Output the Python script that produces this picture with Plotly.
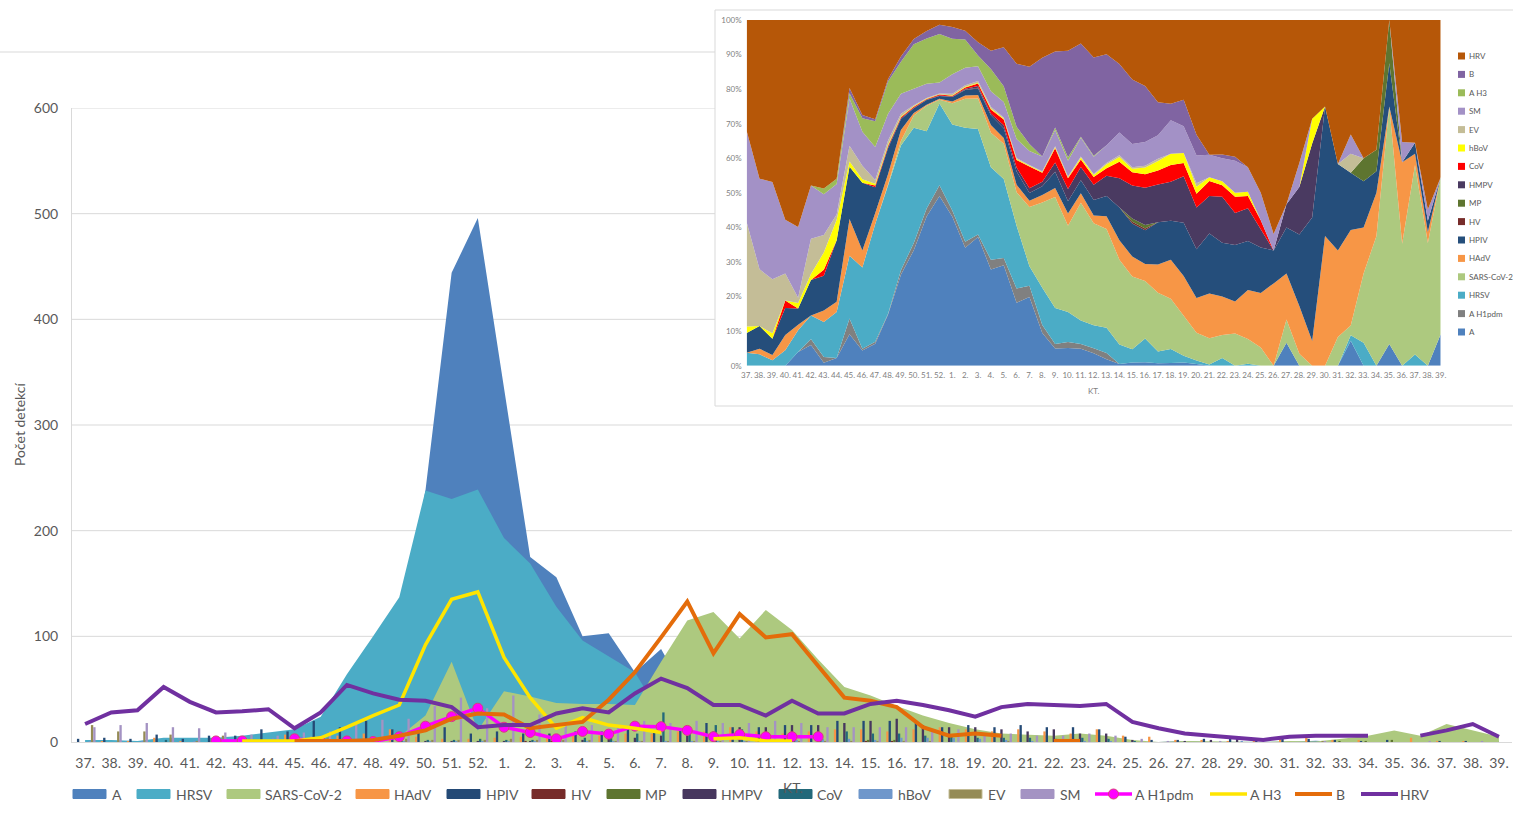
import plotly.graph_objects as go

W, H = 1513, 814

weeks = [f"{w}." for w in list(range(37, 53)) + list(range(1, 40))]
pos = list(range(len(weeks)))  # category slots (labels repeat across seasons)

# ---- main areas ----
A = [0, 0, 0, 0, 2.5, 3.5, 0.5, 1.5, 6, 4.5, 12, 40, 100, 238, 444,
     496, 335, 175, 156, 100, 103, 66, 88, 44, 19, 20, 18, 13, 5, 1,
     2, 2, 1, 1, 1, 0.5, 0, 0, 0, 0, 0, 0, 1, 0, 0,
     0, 0, 1.3, 0, 0, 1, 0, 0, 0, 1]
HRSV = [2, 2, 1, 4, 4, 4, 6, 9, 12, 24, 64, 100, 137, 238, 230,
        239, 193, 169, 128, 96, 81, 66, 25, 50, 40, 34, 25, 24, 20, 12,
        8, 14, 5, 5, 2, 1, 0.3, 2, 0, 0.5, 0, 0, 0, 0, 0,
        0, 0, 0.3, 1, 0, 0, 0, 1, 0, 0]
SARS_CoV_2 = [0, 0, 0, 0, 0, 0, 0, 0, 0, 0, 0, 1, 5, 25, 76,
              11, 48, 43, 37, 36, 36, 35, 76, 115, 123, 98, 125, 106, 78, 52,
              44, 34, 25, 18, 12, 8, 7, 6, 8, 6, 2, 0, 1, 0.5, 0,
              0, 1, 0.5, 3, 6, 11, 6, 17, 11, 5]

# ---- bars ----
HAdV = [0, 1, 1, 4, 1, 0, 2, 2, 7, 5, 6, 8, 12, 5, 3,
        3, 4, 5, 4, 8, 6, 8, 8, 10, 10, 14, 10, 8, 10, 12,
        12, 10, 12, 14, 12, 10, 12, 10, 8, 12, 6, 5, 2, 2, 1,
        3, 3, 5, 2, 2, 0, 4, 1, 1, 0]
HPIV = [3, 4, 3, 7, 3, 6, 6, 12, 10, 20, 14, 20, 12, 10, 14,
        8, 10, 8, 8, 10, 10, 14, 10, 12, 18, 14, 14, 16, 16, 20,
        20, 20, 18, 14, 16, 14, 16, 14, 14, 12, 5, 2, 2, 3, 5,
        3, 3, 3, 2, 1, 2, 0, 1, 1, 0]
HV = [0, 0, 0, 0, 0, 0, 0, 0, 0, 0, 0, 0, 0, 0, 0,
      0, 0, 1, 1, 0, 0, 0, 0, 0, 0, 0, 0, 0, 0, 0,
      1, 1, 0, 0, 0, 0, 0, 0, 0, 0, 0, 0, 0, 0, 0,
      0, 0, 0, 0, 0, 0, 0, 0, 0, 0]
MP = [0, 0, 0, 0, 0, 0, 0, 0, 0, 0, 0, 0, 0, 0, 0,
      0, 0, 0, 0, 0, 0, 0, 0, 0, 0, 0, 0, 0, 0, 0,
      2, 2, 0, 0, 0, 0, 0, 0, 0, 0, 0, 0, 0, 0, 0,
      0, 0, 0, 1, 1, 2, 0, 0, 0, 0]
HMPV = [0, 0, 0, 0, 0, 0, 0, 0, 0, 0, 0, 1, 1, 1, 1,
        1, 1, 1, 2, 2, 3, 4, 6, 6, 10, 14, 14, 16, 16, 18,
        20, 22, 16, 14, 14, 12, 10, 12, 8, 8, 2, 0, 1, 2, 3,
        0, 0, 0, 0, 0, 0, 0, 0, 0, 0]
CoV = [0, 0, 0, 2, 0, 0, 1, 0, 0, 0, 1, 1, 1, 2, 2,
       3, 2, 2, 3, 4, 6, 8, 28, 12, 16, 12, 8, 8, 6, 10,
       8, 8, 6, 6, 4, 4, 4, 3, 4, 3, 1, 0, 0, 0, 0,
       0, 0, 0, 0, 0, 0, 0, 0, 0, 0]
hBoV = [1, 0, 1, 0, 1, 1, 3, 4, 1, 1, 1, 1, 1, 1, 1,
        1, 1, 1, 1, 1, 1, 1, 1, 1, 1, 1, 2, 2, 3, 3,
        2, 4, 4, 4, 3, 2, 1, 1, 1, 1, 0, 0, 0, 0, 1,
        0, 0, 0, 0, 0, 0, 0, 0, 0, 0]
EV = [16, 10, 10, 7, 1, 6, 3, 1, 3, 4, 2, 3, 3, 2, 2,
      2, 3, 2, 2, 2, 1, 1, 1, 1, 1, 1, 1, 1, 1, 1,
      1, 1, 1, 0, 0, 1, 0, 0, 0, 0, 0, 0, 0, 0, 0,
      0, 0, 1, 0, 0, 0, 0, 0, 0, 0]
SM = [14, 16, 18, 14, 13, 9, 7, 6, 9, 10, 18, 21, 22, 34, 42,
      32, 44, 26, 18, 16, 16, 20, 18, 20, 18, 18, 20, 18, 14, 14,
      14, 14, 10, 12, 8, 8, 6, 6, 8, 6, 3, 1, 0, 1, 0,
      0, 0, 1, 0, 0, 0, 1, 0, 1, 0]

# ---- lines ----
N = None
A_H1pdm = [N, N, N, N, N, 1, 1, N, 3, 0.5, 1, 0.5, 5, 15, 24,
           32, 14, 9, 3, 10, 7.5, 15, 14.5, 11, 5, 7, 5, 5, 5, N,
           N, N, N, N, N, N, N, N, N, N, N, N, N, N, N,
           N, N, N, N, N, N, N, N, N, N]
A_H3 = [N, N, N, N, N, N, 1, 1, 1, 4, 14, 25, 35, 92, 135,
        142, 80, 42, 13, 23, 16, 13, 9, N, 3, 4, 1, 1, N, N,
        N, N, N, N, N, N, N, N, N, N, N, N, N, N, N,
        N, N, N, N, N, N, N, N, N, N]
B = [N, N, N, N, N, N, N, N, 1, 1, 1, 2, 6, 11, 22,
     27, 26, 13, 16, 19, 40, 66, 99, 133, 84, 121, 99, 102, 72, 42,
     39, 33, 14, 6, 8, 6, N, 1, 1, N, N, N, N, N, N,
     N, N, N, N, N, N, N, N, N, N]
HRV = [17, 28, 30, 52, 38, 28, 29, 31, 13, 28, 54, 46, 40, 39, 33,
       14, 16, 16, 27, 32, 28, 46, 60, 51, 35, 35, 25, 39, 27, 27,
       36, 39, 35, 30, 24, 33, 36, 35, 34, 36, 19, 13, 8, 6, 4,
       2, 5, 6, 6, 6, N, 6, 11, 17, 5]

y_ticks = [0, 100, 200, 300, 400, 500, 600]
pct_ticks = list(range(0, 101, 10))


def px(x):
    return x / W


def py(y):
    return 1 - y / H


FONT = "Lato, 'Open Sans', sans-serif"
GREY = "#595959"

main_colors = {"A": "#4F81BD", "HRSV": "#4BACC6", "SARS-CoV-2": "#ADC97F",
               "HAdV": "#F79646", "HPIV": "#244A76", "HV": "#772C2A", "MP": "#5E7530",
               "HMPV": "#47375E", "CoV": "#23697A", "hBoV": "#6F97CB", "EV": "#958B55",
               "SM": "#A493C3", "A H1pdm": "#FF00FF", "A H3": "#FFE500", "B": "#E46C0A",
               "HRV": "#7030A0"}
inset_colors = {"A": "#4F81BD", "A H1pdm": "#808080", "HRSV": "#4BACC6",
                "SARS-CoV-2": "#ADC97F", "HAdV": "#F79646", "HPIV": "#254E7B",
                "HV": "#772C2A", "MP": "#5E7530", "HMPV": "#4A3A61", "CoV": "#FF0000",
                "hBoV": "#FFFF00", "EV": "#C4BD97", "SM": "#A391C6", "A H3": "#9BBB59",
                "B": "#8064A2", "HRV": "#B65708"}

fig = go.Figure()

# main area series (back)
for name, vals in [("A", A), ("HRSV", HRSV), ("SARS-CoV-2", SARS_CoV_2)]:
    c = main_colors[name]
    fig.add_trace(go.Scatter(x=pos, y=vals, name=name, mode="lines",
                             line=dict(width=0, color=c), fill="tozeroy",
                             fillcolor=c, xaxis="x", yaxis="y"))

# bars (overlay axes so they sit above the areas)
for name, vals in [("HAdV", HAdV), ("HPIV", HPIV), ("HV", HV), ("MP", MP),
                   ("HMPV", HMPV), ("CoV", CoV), ("hBoV", hBoV), ("EV", EV), ("SM", SM)]:
    fig.add_trace(go.Bar(x=pos, y=[v if v else None for v in vals], name=name,
                         marker=dict(color=main_colors[name], line=dict(width=0)),
                         xaxis="x4", yaxis="y4"))

# lines
fig.add_trace(go.Scatter(x=pos, y=A_H1pdm, name="A H1pdm", mode="lines+markers",
                         line=dict(color="#FF00FF", width=3.5),
                         marker=dict(size=10, color="#FF00FF", line=dict(color="#D8407A", width=1)),
                         xaxis="x4", yaxis="y4"))
for name, vals, wd in [("A H3", A_H3, 3.5), ("B", B, 4), ("HRV", HRV, 4)]:
    fig.add_trace(go.Scatter(x=pos, y=vals, name=name, mode="lines",
                             line=dict(color=main_colors[name], width=wd),
                             xaxis="x4", yaxis="y4"))

# inset: 100% stacked areas
inset = [("A", A), ("A H1pdm", A_H1pdm), ("HRSV", HRSV), ("SARS-CoV-2", SARS_CoV_2),
         ("HAdV", HAdV), ("HPIV", HPIV), ("HV", HV), ("MP", MP), ("HMPV", HMPV),
         ("CoV", CoV), ("hBoV", hBoV), ("EV", EV), ("SM", SM), ("A H3", A_H3),
         ("B", B), ("HRV", HRV)]
for k, (name, vals) in enumerate(inset):
    fig.add_trace(go.Scatter(x=pos, y=[v if v is not None else 0 for v in vals],
                             name=name, mode="none", stackgroup="pct",
                             groupnorm="percent" if k == 0 else None,
                             fillcolor=inset_colors[name], line=dict(width=0),
                             xaxis="x3", yaxis="y3"))

# ---- shapes: gridlines, inset frame, chart border ----
shapes = []
for v in y_ticks[1:]:
    shapes.append(dict(type="line", xref="paper", yref="y", x0=px(72), x1=px(1512),
                       y0=v, y1=v, line=dict(color="#D9D9D9", width=1), layer="below"))
shapes.append(dict(type="rect", xref="paper", yref="paper", x0=px(715), x1=px(1516),
                   y0=py(406), y1=py(10), line=dict(color="#D9D9D9", width=1),
                   fillcolor="white", layer="below"))
shapes.append(dict(type="line", xref="paper", yref="paper", x0=0, x1=px(715),
                   y0=py(52), y1=py(52), line=dict(color="#D9D9D9", width=1), layer="below"))

annotations = [
    dict(text="Počet detekcí", x=px(19), y=py(425), xref="paper", yref="paper",
         xanchor="center", yanchor="middle", textangle=-90, showarrow=False,
         font=dict(size=14, color=GREY, family=FONT)),
    dict(text="KT.", x=px(793), y=py(787), xref="paper", yref="paper",
         xanchor="center", yanchor="middle", showarrow=False,
         font=dict(size=14, color=GREY, family=FONT)),
    dict(text="KT.", x=px(1093), y=py(391), xref="paper", yref="paper",
         xanchor="center", yanchor="middle", showarrow=False,
         font=dict(size=8, color="#7F7F7F", family=FONT)),
]

# ---- main legend (bottom) ----
LEG_Y = 794
rect_items = [("A", 73, 110), ("HRSV", 137, 174), ("SARS-CoV-2", 227, 263),
              ("HAdV", 356, 392), ("HPIV", 447, 484), ("HV", 532, 569), ("MP", 607, 643),
              ("HMPV", 683, 719), ("CoV", 779, 815), ("hBoV", 859, 896),
              ("EV", 949, 986), ("SM", 1021, 1058)]
for name, x0, tx in rect_items:
    border = "#C4BD97" if name == "EV" else main_colors[name]
    shapes.append(dict(type="rect", xref="paper", yref="paper", x0=px(x0), x1=px(x0 + 33),
                       y0=py(LEG_Y + 4.5), y1=py(LEG_Y - 4.5), fillcolor=main_colors[name],
                       line=dict(color=border, width=1), layer="above"))
    annotations.append(dict(text=name, x=px(tx), y=py(LEG_Y), xref="paper", yref="paper",
                            xanchor="left", yanchor="middle", showarrow=False,
                            font=dict(size=14, color=GREY, family=FONT)))
line_items = [("A H1pdm", 1095, 1133, 3.5), ("A H3", 1210, 1248, 3.5),
              ("B", 1295, 1334, 4), ("HRV", 1361, 1398, 4)]
for name, x0, tx, wd in line_items:
    shapes.append(dict(type="line", xref="paper", yref="paper", x0=px(x0), x1=px(x0 + 37),
                       y0=py(LEG_Y), y1=py(LEG_Y), line=dict(color=main_colors[name], width=wd),
                       layer="above"))
    annotations.append(dict(text=name, x=px(tx), y=py(LEG_Y), xref="paper", yref="paper",
                            xanchor="left", yanchor="middle", showarrow=False,
                            font=dict(size=14, color=GREY, family=FONT)))
shapes.append(dict(type="circle", xref="paper", yref="paper", x0=px(1108.5), x1=px(1118.5),
                   y0=py(LEG_Y + 5), y1=py(LEG_Y - 5), fillcolor="#FF00FF",
                   line=dict(color="#D8407A", width=1), layer="above"))

# ---- inset legend (right, reversed stacking order) ----
for k, (name, _) in enumerate(reversed(inset)):
    yc = 56 + k * 18.4
    shapes.append(dict(type="rect", xref="paper", yref="paper", x0=px(1458), x1=px(1465),
                       y0=py(yc + 3.5), y1=py(yc - 3.5), fillcolor=inset_colors[name],
                       line=dict(width=0), layer="above"))
    annotations.append(dict(text=name, x=px(1467), y=py(yc), xref="paper", yref="paper",
                            xanchor="left", yanchor="middle", showarrow=False,
                            font=dict(size=8, color=GREY, family=FONT)))

fig.update_layout(
    width=W, height=H, autosize=False,
    margin=dict(l=0, r=0, t=0, b=0, autoexpand=False),
    paper_bgcolor="white", plot_bgcolor="white",
    font=dict(family=FONT, color=GREY),
    barmode="group", bargap=0.2, bargroupgap=0,
    showlegend=False, hovermode=False,
    xaxis=dict(domain=[px(72), px(1512)], range=[-0.5, 54.5],
               tickmode="array", tickvals=pos, ticktext=weeks, tickangle=0,
               tickfont=dict(size=14, color=GREY, family=FONT), showgrid=False,
               zeroline=False, showline=True, linecolor="#D9D9D9", ticks="",
               ticklabelstandoff=8, anchor="y"),
    yaxis=dict(domain=[py(742), py(108)], range=[0, 600], tickvals=y_ticks,
               tickfont=dict(size=14, color=GREY, family=FONT), showgrid=False,
               zeroline=False, showline=True, linecolor="#D9D9D9", ticks="",
               ticklabelstandoff=10, anchor="x"),
    xaxis4=dict(overlaying="x", range=[-0.5, 54.5], visible=False, anchor="y4"),
    yaxis4=dict(overlaying="y", range=[0, 600], visible=False, anchor="x4"),
    xaxis3=dict(domain=[px(746.7), px(1440.7)], range=[0, 54],
                tickmode="array", tickvals=pos, ticktext=weeks, tickangle=0,
                tickfont=dict(size=8, color="#7F7F7F", family=FONT), showgrid=False,
                zeroline=False, showline=False, ticks="", ticklabelstandoff=3, anchor="y3"),
    yaxis3=dict(domain=[py(365.7), py(20)], range=[0, 100], tickmode="array",
                tickvals=pct_ticks, ticktext=[f"{v}%" for v in pct_ticks],
                tickfont=dict(size=8, color="#7F7F7F", family=FONT),
                showgrid=False, zeroline=False, showline=False, ticks="",
                ticklabelstandoff=4, anchor="x3"),
    shapes=shapes,
    annotations=annotations,
)

fig.write_html("out.html", config={"displayModeBar": False, "staticPlot": True},
               post_script="document.body.style.margin='0';document.body.style.overflow='hidden';")
